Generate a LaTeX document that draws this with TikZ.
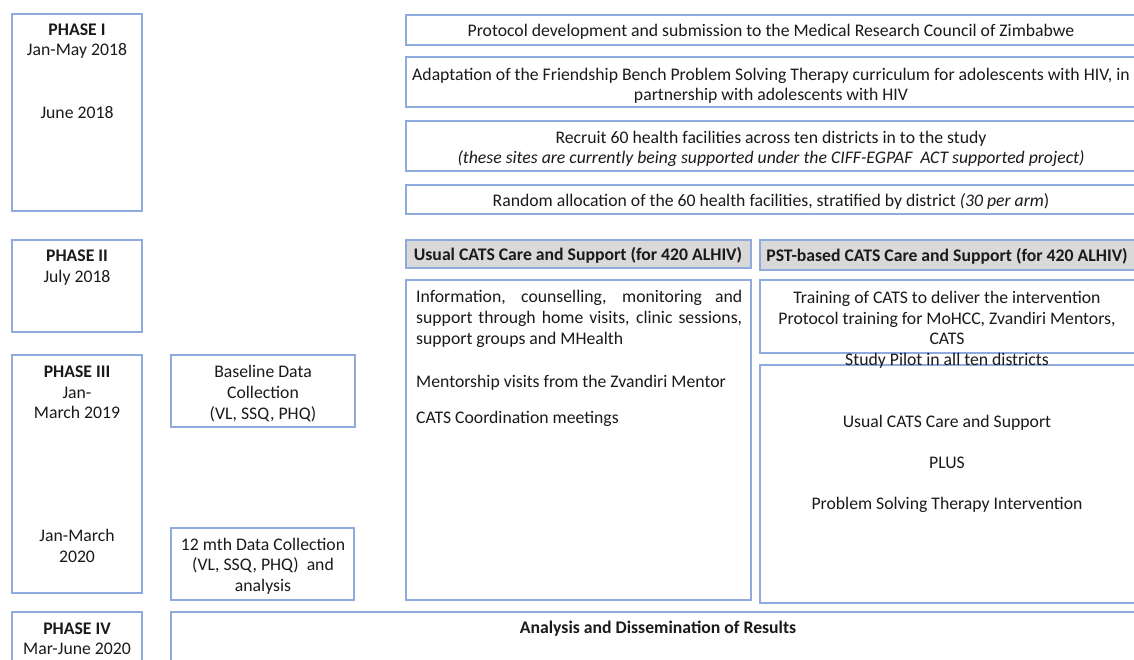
\documentclass[tikz,border=0pt]{standalone}
\usepackage{fontspec}
\setmainfont{Carlito}
\definecolor{bordc}{HTML}{8FAADC}
\definecolor{hdrgrey}{HTML}{D9D9D9}
\definecolor{txtc}{HTML}{1A1A1A}
\tikzset{
  box/.style={draw=bordc, line width=1.4pt},
  hdrbox/.style={box, fill=hdrgrey},
  t/.style={font=\fontsize{17.7}{21}\selectfont, text=txtc, inner sep=0pt, anchor=base},
  tl/.style={t, anchor=base west},
  tb/.style={t, font=\fontsize{17.7}{21}\selectfont\bfseries},
}
\begin{document}
\begin{tikzpicture}[x=1pt,y=-1pt]
\useasboundingbox (0,0) rectangle (1134,659);
\clip (0,0) rectangle (1134,659);
\fill[white] (0,0) rectangle (1134,659);
% left phase column
\draw[box] (12,14) rectangle (142,211);
\draw[box] (12,240) rectangle (142,332);
\draw[box] (12,355) rectangle (142,593);
\draw[box] (12,612) rectangle (142,680);
\node[tb] (p1) at (77,35) {PHASE I};
\node[t] (p1a) at (77,55) {Jan-May 2018};
\node[t] (p1b) at (77,118) {June 2018};
\node[tb] (p2) at (77,261) {PHASE II};
\node[t] (p2a) at (77,282) {July 2018};
\node[tb] (p3) at (77,377) {PHASE III};
\node[t] (p3a) at (77,398) {Jan-};
\node[t] (p3b) at (77,418) {March 2019};
\node[t] (p3c) at (77,541) {Jan-March};
\node[t] (p3d) at (77,562) {2020};
\node[tb] (p4) at (77,634) {PHASE IV};
\node[t] (p4a) at (77,654) {Mar-June 2020};
% data collection
\draw[box] (171,355) rectangle (355,427);
\node[t] (bl1) at (263,377) {Baseline Data};
\node[t] (bl2) at (263,398) {Collection};
\node[t] (bl3) at (263,419) {(VL, SSQ, PHQ)};
\draw[box] (171,528) rectangle (354,600);
\node[t] (dc1) at (263,550) {12 mth Data Collection};
\node[t] (dc2) at (263,570) {(VL, SSQ, PHQ)\ \ and};
\node[t] (dc3) at (263,591) {analysis};
% top boxes
\draw[box] (406,15) rectangle (1140,45);
\node[t] (pr) at (771,36) {Protocol development and submission to the Medical Research Council of Zimbabwe};
\draw[box] (406,57) rectangle (1140,107);
\node[t] (ad1) at (771,80) {Adaptation of the Friendship Bench Problem Solving Therapy curriculum for adolescents with HIV, in};
\node[t] (ad2) at (771,100) {partnership with adolescents with HIV};
\draw[box] (406,121) rectangle (1140,171);
\node[t] (rc1) at (771,143) {Recruit 60 health facilities across ten districts in to the study};
\node[t] (rc2) at (771,163) {\itshape (these sites are currently being supported under the CIFF-EGPAF\ \ ACT supported project)};
\draw[box] (406,185) rectangle (1140,214);
\node[t] (ra) at (771,206) {Random allocation of the 60 health facilities, stratified by district \textit{(30 per arm})};
% arm headers
\draw[hdrbox] (406,240) rectangle (751,268);
\node[tb] (h1) at (578,260) {Usual CATS Care and Support (for 420 ALHIV)};
\draw[hdrbox] (760,240) rectangle (1140,270);
\node[tb] (h2) at (947,261) {PST-based CATS Care and Support (for 420 ALHIV)};
% usual arm content
\draw[box] (406,280) rectangle (751,600);
\node[tl] (u1) at (416,302) {\makebox[326pt][s]{Information, counselling, monitoring and}};
\node[tl] (u2) at (416,323) {\makebox[326pt][s]{support through home visits, clinic sessions,}};
\node[tl] (u3) at (416,344) {support groups and MHealth};
\node[tl] (u4) at (416,387) {Mentorship visits from the Zvandiri Mentor};
\node[tl] (u5) at (416,423) {CATS Coordination meetings};
% PST arm content
\draw[box] (760,280) rectangle (1140,353);
\node[t] (tr1) at (947,303) {Training of CATS to deliver the intervention};
\node[t] (tr2) at (947,324) {Protocol training for MoHCC, Zvandiri Mentors,};
\node[t] (tr3) at (947,344) {CATS};
\draw[box] (760,365) rectangle (1140,603);
\node[t] (sp) at (947,365) {Study Pilot in all ten districts};
\node[t] (pl1) at (947,427) {Usual CATS Care and Support};
\node[t] (pl2) at (947,468) {PLUS};
\node[t] (pl3) at (947,509) {Problem Solving Therapy Intervention};
% analysis
\draw[box] (171,612) rectangle (1140,680);
\node[tb] (an) at (658,633) {Analysis and Dissemination of Results};
\end{tikzpicture}
\end{document}
